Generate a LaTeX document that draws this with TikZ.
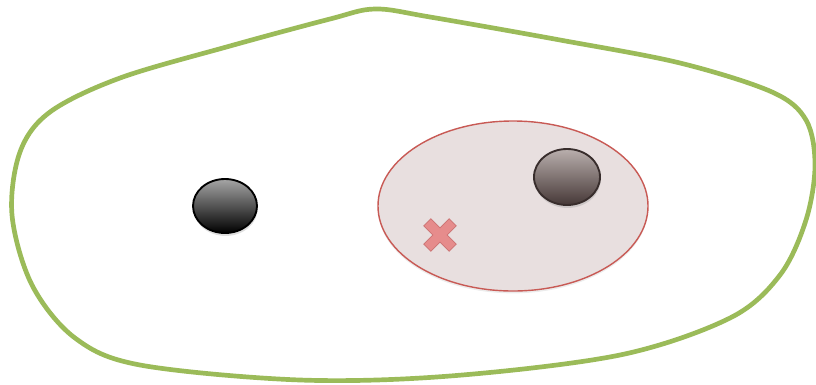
\documentclass[tikz,border=0pt]{standalone}
\usepackage{tikz}
\usetikzlibrary{shapes.geometric, shadows}
\definecolor{cellgreen}{RGB}{155,187,89}
\definecolor{zonered}{RGB}{200,90,85}
\definecolor{zonefill}{RGB}{232,223,223}
\definecolor{markpink}{RGB}{230,140,140}
\definecolor{markedge}{RGB}{205,115,115}
\definecolor{browntop}{RGB}{185,175,173}
\definecolor{brownbot}{RGB}{70,56,55}

\tikzset{
  ball/.style={ellipse, draw, line width=1.6pt, minimum width=1.92cm, minimum height=1.62cm,
    inner sep=0pt, drop shadow={shadow xshift=0.5pt, shadow yshift=-2.5pt, opacity=0.25}},
}

\begin{document}
\begin{tikzpicture}[x=0.03cm, y=-0.03cm]
  \useasboundingbox (0,0) rectangle (816,384);

  % the cell outline
  \draw[cellgreen, line width=4pt, line join=round]
    plot[smooth cycle, tension=0.55] coordinates {
      (375,9) (430,17) (560,40) (680,63) (772,92) (806,120) (815,165)
      (806,220) (780,275) (730,318) (620,355) (450,376) (300,380)
      (140,365) (75,338) (32,285) (12,215) (20,152) (50,112) (120,78)
      (230,46) (330,19)};

  % the red zone
  \node[ellipse, draw=zonered, line width=1.2pt, fill=zonefill,
        minimum width=8.1cm, minimum height=5.1cm,
        drop shadow={shadow xshift=0pt, shadow yshift=-2pt, opacity=0.15}]
        (zone) at (513,206) {};

  % the two particles
  \node[ball, shading=axis, top color=black!35, bottom color=black, draw=black]
        (left) at (225,206) {};
  \node[ball, shading=axis, top color=browntop, bottom color=brownbot,
        draw=brownbot!80!black, minimum width=1.98cm, minimum height=1.68cm]
        (right) at (567,177) {};

  % the cross mark
  \coordinate (mark) at (440,235);
  \fill[black, opacity=0.12, shift={(1,4)}, rotate around={45:(mark)}]
    (mark) +(5,18) -- +(5,5) -- +(18,5) -- +(18,-5) -- +(5,-5) -- +(5,-18)
    -- +(-5,-18) -- +(-5,-5) -- +(-18,-5) -- +(-18,5) -- +(-5,5) -- +(-5,18) -- cycle;
  \draw[markedge, fill=markpink, line width=0.6pt, rotate around={45:(mark)}]
    (mark) +(5,18) -- +(5,5) -- +(18,5) -- +(18,-5) -- +(5,-5) -- +(5,-18)
    -- +(-5,-18) -- +(-5,-5) -- +(-18,-5) -- +(-18,5) -- +(-5,5) -- +(-5,18) -- cycle;
\end{tikzpicture}
\end{document}
